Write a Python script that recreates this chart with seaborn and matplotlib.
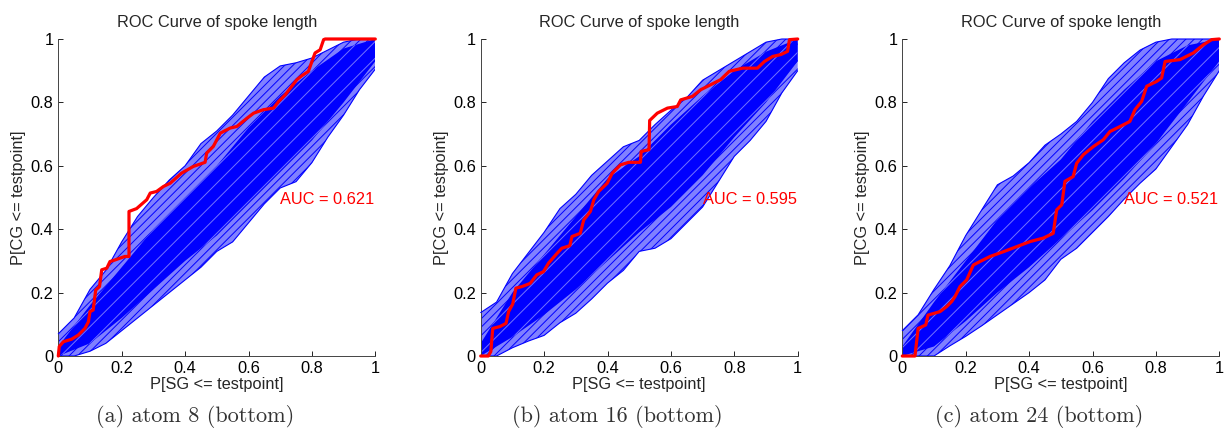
import numpy as np
import pandas as pd
import matplotlib
matplotlib.use("Agg")
import matplotlib.pyplot as plt
import seaborn as sns

# ---------------- data ----------------
TITLE = "ROC Curve of spoke length"
XLABEL = "P[SG <= testpoint]"
YLABEL = "P[CG <= testpoint]"
CAPTIONS = ["(a) atom 8 (bottom)", "(b) atom 16 (bottom)", "(c) atom 24 (bottom)"]
AUC_LABELS = ["AUC = 0.621", "AUC = 0.595", "AUC = 0.521"]
TICKS = [0, 0.2, 0.4, 0.6, 0.8, 1]
TICK_LABELS = ["0", "0.2", "0.4", "0.6", "0.8", "1"]

# red ROC curves (observed statistic)
red_a_x = [0, 0.003, 0.016, 0.042, 0.063, 0.084, 0.095, 0.1, 0.11, 0.118, 0.13, 0.137, 0.153,
           0.163, 0.179, 0.21, 0.223, 0.223, 0.247, 0.279, 0.29, 0.31, 0.332, 0.353, 0.389,
           0.426, 0.463, 0.468, 0.489, 0.511, 0.542, 0.563, 0.595, 0.616, 0.647, 0.679,
           0.695, 0.716, 0.732, 0.753, 0.768, 0.789, 0.8, 0.81, 0.826, 0.837, 0.842, 1.0]
red_a_y = [0, 0.03, 0.045, 0.053, 0.066, 0.087, 0.108, 0.14, 0.145, 0.208, 0.219, 0.272, 0.277,
           0.298, 0.303, 0.314, 0.314, 0.456, 0.465, 0.493, 0.514, 0.519, 0.535, 0.545, 0.577,
           0.598, 0.611, 0.64, 0.661, 0.703, 0.719, 0.724, 0.75, 0.766, 0.777, 0.782,
           0.803, 0.824, 0.845, 0.872, 0.884, 0.898, 0.929, 0.956, 0.966, 0.998, 1.0, 1.0]

red_b_x = [0, 0.024, 0.032, 0.038, 0.061, 0.08, 0.088, 0.101, 0.111, 0.13, 0.156, 0.177, 0.198,
           0.214, 0.241, 0.256, 0.281, 0.288, 0.314, 0.325, 0.346, 0.357, 0.372, 0.399, 0.415,
           0.441, 0.467, 0.504, 0.506, 0.531, 0.533, 0.557, 0.589, 0.62, 0.631, 0.668, 0.694,
           0.726, 0.757, 0.784, 0.826, 0.873, 0.895, 0.921, 0.947, 0.968, 0.974, 1.0]
red_b_y = [0, 0, 0.014, 0.087, 0.093, 0.103, 0.14, 0.164, 0.214, 0.219, 0.229, 0.256, 0.266,
           0.293, 0.324, 0.34, 0.348, 0.377, 0.387, 0.429, 0.456, 0.493, 0.519, 0.545, 0.577,
           0.603, 0.611, 0.611, 0.645, 0.651, 0.743, 0.766, 0.782, 0.787, 0.808, 0.819, 0.84,
           0.856, 0.872, 0.898, 0.908, 0.908, 0.929, 0.945, 0.951, 0.961, 0.998, 1.0]

red_c_x = [0, 0.04, 0.05, 0.074, 0.081, 0.119, 0.14, 0.156, 0.166, 0.182, 0.203, 0.224, 0.245,
           0.277, 0.319, 0.361, 0.403, 0.445, 0.476, 0.487, 0.503, 0.513, 0.539, 0.55, 0.571,
           0.603, 0.634, 0.655, 0.687, 0.718, 0.734, 0.755, 0.771, 0.802, 0.818, 0.829, 0.876,
           0.918, 0.95, 0.976, 1.0]
red_c_y = [0, 0, 0.087, 0.098, 0.129, 0.14, 0.156, 0.172, 0.187, 0.219, 0.24, 0.287, 0.298,
           0.314, 0.329, 0.345, 0.361, 0.372, 0.387, 0.461, 0.477, 0.551, 0.566, 0.608, 0.635,
           0.661, 0.682, 0.708, 0.724, 0.74, 0.777, 0.803, 0.851, 0.866, 0.877, 0.929, 0.935,
           0.956, 0.982, 0.998, 1.0]

# envelope of the blue permutation ROC curves (outer extent), read every 0.05
env_x = [0, 0.05, 0.1, 0.15, 0.2, 0.25, 0.3, 0.35, 0.4, 0.45, 0.5,
         0.55, 0.6, 0.65, 0.7, 0.75, 0.8, 0.85, 0.9, 0.95, 1.0]
env_a_hi = [0.07, 0.12, 0.21, 0.27, 0.36, 0.44, 0.50, 0.555, 0.60, 0.67, 0.71,
            0.76, 0.82, 0.88, 0.915, 0.925, 0.94, 0.965, 0.99, 1.0, 1.0]
env_a_lo = [0, 0, 0.015, 0.04, 0.08, 0.12, 0.16, 0.20, 0.24, 0.28, 0.33,
            0.36, 0.42, 0.48, 0.53, 0.55, 0.61, 0.69, 0.76, 0.84, 0.905]
env_b_hi = [0.137, 0.17, 0.26, 0.325, 0.39, 0.465, 0.51, 0.57, 0.615, 0.66, 0.68,
            0.73, 0.775, 0.815, 0.87, 0.90, 0.93, 0.96, 0.99, 1.0, 1.0]
env_b_lo = [0, 0, 0.026, 0.047, 0.065, 0.105, 0.135, 0.18, 0.23, 0.27, 0.33,
            0.34, 0.37, 0.42, 0.47, 0.55, 0.63, 0.68, 0.74, 0.83, 0.90]
env_c_hi = [0.08, 0.13, 0.21, 0.285, 0.38, 0.46, 0.54, 0.568, 0.61, 0.665, 0.70,
            0.74, 0.80, 0.875, 0.925, 0.965, 0.99, 1.0, 1.0, 1.0, 1.0]
env_c_lo = [0, 0, 0, 0.032, 0.062, 0.095, 0.13, 0.165, 0.20, 0.24, 0.305,
            0.34, 0.39, 0.44, 0.495, 0.545, 0.59, 0.66, 0.73, 0.82, 0.90]

# dense core of the blue curves, read every 0.1
core_x = [0, 0.1, 0.2, 0.3, 0.4, 0.5, 0.6, 0.7, 0.8, 0.9, 1.0]
core_a_hi = [0.03, 0.16, 0.28, 0.40, 0.50, 0.60, 0.72, 0.82, 0.90, 0.97, 1.0]
core_a_lo = [0, 0.04, 0.12, 0.21, 0.30, 0.38, 0.48, 0.58, 0.68, 0.80, 0.93]
core_b_hi = [0.04, 0.20, 0.32, 0.44, 0.56, 0.63, 0.73, 0.82, 0.90, 0.96, 1.0]
core_b_lo = [0, 0.06, 0.13, 0.21, 0.30, 0.39, 0.47, 0.57, 0.69, 0.80, 0.93]
core_c_hi = [0.03, 0.17, 0.30, 0.43, 0.53, 0.62, 0.74, 0.84, 0.93, 0.98, 1.0]
core_c_lo = [0, 0.03, 0.11, 0.20, 0.28, 0.37, 0.46, 0.56, 0.67, 0.80, 0.93]

panels = [
    (red_a_x, red_a_y, env_a_hi, env_a_lo, core_a_hi, core_a_lo),
    (red_b_x, red_b_y, env_b_hi, env_b_lo, core_b_hi, core_b_lo),
    (red_c_x, red_c_y, env_c_hi, env_c_lo, core_c_hi, core_c_lo),
]

# ---------------- styling ----------------
sns.set_style("ticks")
plt.rcParams['font.family'] = ['Liberation Sans', 'DejaVu Sans']
plt.rcParams['hatch.linewidth'] = 0.7

W, H = 1227, 430
fig = plt.figure(figsize=(W / 100, H / 100), dpi=100)
lefts_px = [58.3, 480.7, 902.3]
ax_w, ax_h = 317.0, 317.0
ax_bottom_px = 356.0

BLUE = (0, 0, 1)
FS = 11.8
for i, (rx, ry, ehi, elo, chi, clo) in enumerate(panels):
    ax = fig.add_axes([lefts_px[i] / W, (H - ax_bottom_px) / H, ax_w / W, ax_h / H])
    # outer sparse band of permutation curves
    ax.fill_between(env_x, elo, ehi, facecolor=(0.5, 0.5, 1.0), edgecolor=BLUE,
                    hatch="////", linewidth=0, zorder=1)
    # dense core
    ax.fill_between(core_x, clo, chi, facecolor=(0.0, 0.0, 1.0), edgecolor=(0.45, 0.45, 1.0),
                    hatch="//", linewidth=0, zorder=2)
    env_df = pd.DataFrame({"x": env_x, "hi": ehi, "lo": elo})
    sns.lineplot(data=env_df, x="x", y="hi", ax=ax, color=BLUE, lw=0.8,
                 sort=False, estimator=None, zorder=3, clip_on=False)
    sns.lineplot(data=env_df, x="x", y="lo", ax=ax, color=BLUE, lw=0.8,
                 sort=False, estimator=None, zorder=3)
    red_df = pd.DataFrame({"x": rx, "y": ry})
    sns.lineplot(data=red_df, x="x", y="y", ax=ax, color=(1, 0, 0), lw=2.3,
                 sort=False, estimator=None, zorder=5, clip_on=False)

    ax.text(0.70, 0.495, AUC_LABELS[i], color=(1, 0, 0), fontsize=FS,
            ha="left", va="center", zorder=6)

    ax.set_xlim(0, 1)
    ax.set_ylim(0, 1)
    ax.set_xticks(TICKS)
    ax.set_xticklabels(TICK_LABELS)
    ax.set_yticks(TICKS)
    ax.set_yticklabels(TICK_LABELS)
    ax.tick_params(direction="in", length=3.5, width=0.6, labelsize=FS, pad=3.5,
                   colors="black")
    for s in ["top", "right"]:
        ax.spines[s].set_visible(False)
    for s in ["left", "bottom"]:
        ax.spines[s].set_linewidth(0.7)
        ax.spines[s].set_color("#444444")
    ax.set_title(TITLE, fontsize=FS, pad=8.5)
    ax.set_xlabel(XLABEL, fontsize=FS, labelpad=0.5)
    ax.set_ylabel(YLABEL, fontsize=FS, labelpad=3)

    cx = (lefts_px[i] + ax_w / 2 - 21.5) / W
    fig.text(cx, 1 - 417.0 / H, CAPTIONS[i], fontsize=16, family="cmr10",
             color="#333333", ha="center", va="center")

fig.savefig("out.png", dpi=100)
